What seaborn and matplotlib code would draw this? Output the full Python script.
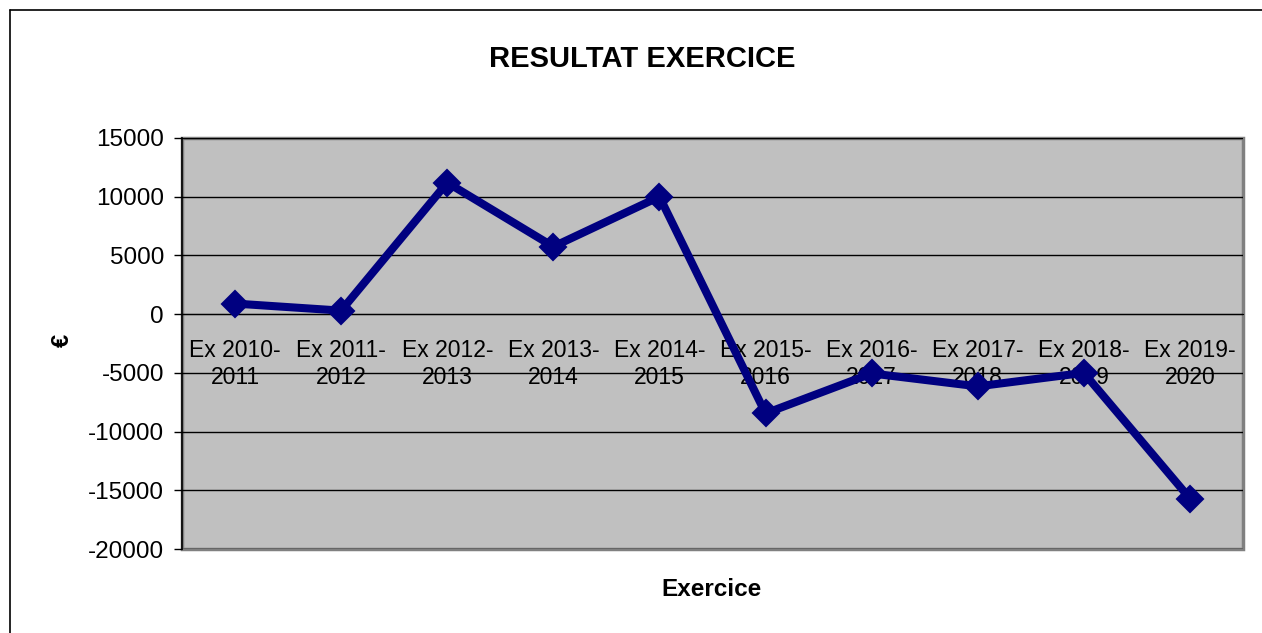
import numpy as np
import pandas as pd
import seaborn as sns
import matplotlib.pyplot as plt
from matplotlib.patches import Rectangle
from matplotlib.lines import Line2D

exercices = ["Ex 2010-\n2011", "Ex 2011-\n2012", "Ex 2012-\n2013", "Ex 2013-\n2014",
             "Ex 2014-\n2015", "Ex 2015-\n2016", "Ex 2016-\n2017", "Ex 2017-\n2018",
             "Ex 2018-\n2019", "Ex 2019-\n2020"]
resultat = [900, 300, 11200, 5750, 10000, -8450, -5050, -6150, -5000, -15700]
y_ticks = [-20000, -15000, -10000, -5000, 0, 5000, 10000, 15000]

sns.set_style("white")
plt.rcParams['font.family'] = ['Liberation Sans', 'DejaVu Sans']
plt.rcParams['text.color'] = "black"
plt.rcParams['xtick.color'] = "black"
plt.rcParams['ytick.color'] = "black"

df = pd.DataFrame({"pos": np.arange(len(exercices)), "resultat": resultat})

fig = plt.figure(figsize=(12.62, 6.33), dpi=100)
ax = fig.add_axes([182 / 1262, 1 - 549 / 633, (1243 - 182) / 1262, (549 - 138) / 633])
ax.set_facecolor("#C0C0C0")

# cadre exterieur (gauche + haut)
fig.add_artist(Line2D([10 / 1262, 10 / 1262], [0, 1 - 10 / 633], color="black", lw=1.2))
fig.add_artist(Line2D([10 / 1262, 1], [1 - 10 / 633, 1 - 10 / 633], color="black", lw=1.2))

sns.lineplot(data=df, x="pos", y="resultat", ax=ax, color="#000080", lw=5.8,
             marker="D", markersize=13, markeredgecolor="#000080", markeredgewidth=1.5,
             sort=False, zorder=3)

ax.set_xlim(-0.5, len(exercices) - 0.5)
ax.set_ylim(-20000, 15000)
ax.set_yticks(y_ticks)
ax.set_yticklabels([str(v) for v in y_ticks])
ax.yaxis.grid(True, color="black", lw=1)
ax.set_axisbelow(True)

# axe des x sur la ligne zero
ax.set_xticks(np.arange(len(exercices) + 1) - 0.5)
ax.set_xticklabels([])
ax.set_xticks(np.arange(len(exercices)), minor=True)
ax.set_xticklabels(exercices, minor=True, linespacing=1.32)
ax.tick_params(axis="x", which="major", direction="out", length=6, width=1, color="black")
ax.tick_params(axis="x", which="minor", length=0, pad=18, labelsize=16.5, labelcolor="black")
ax.tick_params(axis="y", direction="out", length=6, width=1, color="black", pad=7,
               left=True, labelsize=17.5, labelcolor="black")

for s in ["top", "right"]:
    ax.spines[s].set_visible(False)
ax.spines["bottom"].set_position(("data", 0))
ax.spines["bottom"].set_color("black")
ax.spines["left"].set_color("black")
ax.spines["left"].set_linewidth(1.2)
ax.add_patch(Rectangle((0, 0), 1, 1, transform=ax.transAxes, fill=False,
                       edgecolor="#808080", lw=2.5, clip_on=False, zorder=0.5))

ax.set_xlabel("")
ax.set_ylabel("")
fig.text(642 / 1262, 1 - 59 / 633, "RESULTAT EXERCICE", ha="center", va="center",
         fontsize=21, fontweight="bold", color="black")
fig.text(712 / 1262, 1 - 590 / 633, "Exercice", ha="center", va="center",
         fontsize=17.5, fontweight="bold", color="black")
fig.text(62 / 1262, 1 - 340 / 633, "€", ha="center", va="center", rotation=90,
         fontsize=17, fontweight="bold", color="black")

fig.savefig("out.png", dpi=100)
